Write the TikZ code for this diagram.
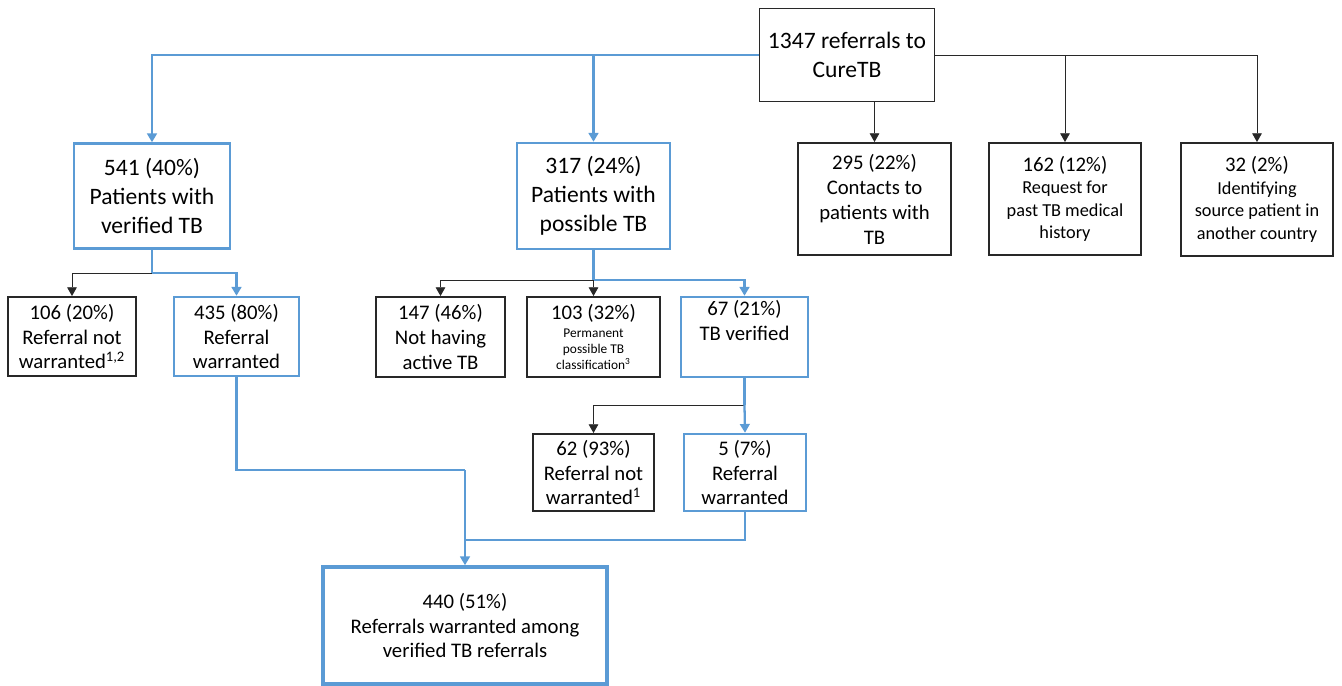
\documentclass[tikz,border=0pt]{standalone}
\usepackage{fontspec}
\setmainfont{Carlito}
\usetikzlibrary{arrows.meta}
\definecolor{refblue}{RGB}{91,155,213}
\definecolor{refgray}{RGB}{40,40,40}
\newcommand{\fbig}{\fontsize{13.4}{16.4}\selectfont}
\newcommand{\fmid}{\fontsize{11.8}{14.2}\selectfont}
\newcommand{\fsml}{\fontsize{10.4}{12.8}\selectfont}
\newcommand{\ftny}{\fontsize{7.6}{9.2}\selectfont}

\begin{document}
\begin{tikzpicture}[
		bluebox/.style={draw=refblue, line width=1.4pt, align=center, inner sep=1pt},
		blackbox/.style={draw=refgray, line width=1.1pt, align=center, inner sep=1pt},
		blueline/.style={draw=refblue, line width=1.3pt},
		blackline/.style={draw=refgray, line width=0.5pt},
		tip/.style={-{Triangle[length=5pt,width=5.5pt]}}
	]
				\useasboundingbox (0, 0) rectangle (26.84, -13.7);
				
				\node[blackbox, font=\fbig, minimum width=3.5cm, minimum height=1.86cm] (top) at (16.94, -1.10) {1347 referrals to\\ CureTB};
				
				\node[bluebox, font=\fbig, minimum width=3.12cm, minimum height=2.1cm] (v541) at (3.04, -3.92) {541 (40\%)\\ Patients with\\ verified TB};
				\node[bluebox, font=\fbig, minimum width=3.06cm, minimum height=2.12cm] (v317) at (11.87, -3.92) {317 (24\%)\\ Patients with\\ possible TB};
				\node[blackbox, font=\fmid, minimum width=3.06cm, minimum height=2.24cm] (n295) at (17.49, -3.98) {295 (22\%)\\ Contacts to\\ patients with\\ TB};
				\node[blackbox, font=\fsml, minimum width=3.04cm, minimum height=2.24cm] (n162) at (21.30, -3.98) {\fmid 162 (12\%)\\ Request for\\ past TB medical\\ history};
				\node[blackbox, font=\fsml, minimum width=3.04cm, minimum height=2.26cm] (n32) at (25.14, -3.99) {\fmid 32 (2\%)\\ Identifying\\ source patient in\\ another country};
				
				\node[blackbox, font=\fmid, minimum width=2.56cm, minimum height=1.58cm] (n106) at (1.44, -6.73) {106 (20\%)\\ Referral not\\ warranted\textsuperscript{1,2}};
				\node[bluebox, font=\fmid, minimum width=2.5cm, minimum height=1.58cm] (n435) at (4.73, -6.73) {435 (80\%)\\ Referral\\ warranted};
				\node[blackbox, font=\fmid, minimum width=2.58cm, minimum height=1.6cm] (n147) at (8.81, -6.74) {147 (46\%)\\ Not having\\ active TB};
				\node[blackbox, font=\ftny, minimum width=2.66cm, minimum height=1.6cm] (n103) at (11.87, -6.74) {\fmid 103 (32\%)\\[1pt] Permanent\\ possible TB\\ classification\textsuperscript{3}};
				\node[bluebox, font=\fmid, minimum width=2.54cm, minimum height=1.6cm] (n67) at (14.89, -6.74) {67 (21\%)\\ TB verified\\ \strut};
				
				\node[blackbox, font=\fmid, minimum width=2.42cm, minimum height=1.54cm] (n62) at (11.87, -9.45) {62 (93\%)\\ Referral not\\ warranted\textsuperscript{1}};
				\node[bluebox, font=\fmid, minimum width=2.44cm, minimum height=1.54cm] (n5) at (14.90, -9.45) {5 (7\%)\\ Referral\\ warranted};
				
				\node[bluebox, font=\fmid, line width=2pt, minimum width=5.68cm, minimum height=2.34cm] (n440) at (9.30, -12.51) {440 (51\%)\\ Referrals warranted among\\ verified TB referrals};
				
				\coordinate (j1) at (3.04, -5.46);
				\coordinate (j2) at (11.87, -5.60);
				\coordinate (j3) at (14.89, -8.10);
				\coordinate (j4) at (9.30, -9.40);
				\coordinate (j5) at (9.30, -10.80);
				
				\draw[blueline, tip] (top.west) -| (v541.north);
				\draw[blueline, tip] (top.west) -| (v317.north);
				\draw[blackline, tip] (n295.north |- top.south) -- (n295.north);
				\draw[blackline, tip] (top.east) -| (n162.north);
				\draw[blackline, tip] (top.east) -| (n32.north);
				
				\draw[blueline] (v541.south) -- (j1);
				\draw[blackline, tip] (j1) -| (n106.north);
				\draw[blueline, tip] (j1) -| (n435.north);
				
				\draw[blueline] (v317.south) -- (j2);
				\draw[blackline, tip] (j2) -| (n147.north);
				\draw[blackline, tip] (j2) -- (n103.north);
				\draw[blueline, tip] (j2) -| (n67.north);
				
				\draw[blueline] (n67.south) -- (j3);
				\draw[blackline, tip] (j3) -| (n62.north);
				\draw[blueline, tip] (j3) -- (n5.north);
				
				\draw[blueline] (n435.south) |- (j4);
				\draw[blueline] (n5.south) |- (j5);
				\draw[blueline, tip] (j4) -- (n440.north);
			\end{tikzpicture}
\end{document}
